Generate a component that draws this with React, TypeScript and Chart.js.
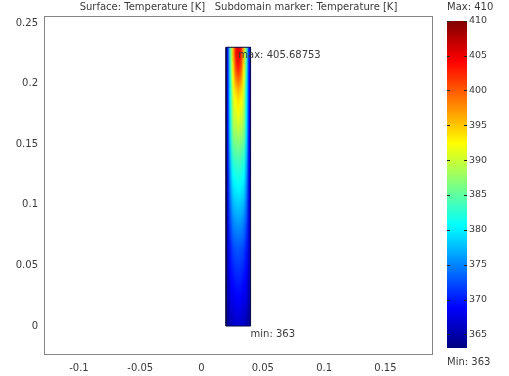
import React, { useEffect, useRef } from "react";
import { Chart, registerables } from "chart.js";

Chart.register(...registerables);

// ---- Data ----
const TITLE = "Surface: Temperature [K]   Subdomain marker: Temperature [K]";
const X_TICKS = [-0.1, -0.05, 0, 0.05, 0.1, 0.15];
const Y_TICKS = [0, 0.05, 0.1, 0.15, 0.2, 0.25];
const X_RANGE = [-0.1285, 0.1888];
const Y_RANGE = [-0.0239, 0.2558];
const DOMAIN_X = [0.02, 0.04];
const DOMAIN_Y = [0, 0.23];
const T_MIN = 363;
const T_MAX = 410;
const COLORBAR_TICKS = [365, 370, 375, 380, 385, 390, 395, 400, 405, 410];
const COLORBAR_AXIS = [362.04, 410.67];
const MAX_LABEL = "max: 405.68753";
const MIN_LABEL = "min: 363";
const MAX_POINT = [0.03, 0.23];
const MIN_POINT = [0.04, 0];

// Temperature field: rows from top (y=0.23) to bottom (y=0), half-width profile
// from the subdomain edge to its centre line (mirrored on the other side).
const T_EDGE = [369, 369, 368.5, 368.5, 368, 368, 368, 367.5, 367.5, 367.5, 367, 367, 367, 366.5, 366.5, 366, 366, 365.5, 365.5, 365, 365, 364.5, 364];
const T_NEAR_EDGE = [384, 383, 382, 381, 380.5, 380, 379.5, 379, 378, 377, 376, 375, 374, 373, 372, 371, 370, 369.5, 369, 368, 367.5, 366.5, 365.5];
const T_MID = [395, 393.5, 392, 390.5, 389.5, 388.5, 387.5, 386, 384, 382.3, 380.8, 379.2, 377.7, 376.2, 374.7, 373.5, 372, 371, 370, 369, 368.2, 367.3, 366.3];
const T_NEAR_CENTER = [403, 401, 398, 394.5, 392.3, 390.7, 389, 387, 385, 383.2, 381.7, 380.2, 378.7, 377.2, 375.7, 374.2, 372.8, 371.8, 370.8, 369.8, 368.8, 367.8, 366.8];
const T_CENTER = [405.6, 403.5, 400, 396, 393.5, 391.8, 389.8, 387.7, 385.6, 383.6, 382, 380.5, 379, 377.5, 376, 374.5, 373, 372, 371, 370, 369, 368, 367];

const FONT = "DejaVu Sans";
const TEXT = "#3a3a3a";

function jet(v: number): [number, number, number] {
  const t = Math.max(0, Math.min(1, (v - T_MIN) / (T_MAX - T_MIN)));
  const c = (a: number) => Math.round(255 * Math.max(0, Math.min(1, 1.5 - Math.abs(4 * t - a))));
  return [c(3), c(2), c(1)];
}

const heatPlugin = {
  id: "heat",
  beforeDatasetsDraw(chart: any) {
    const { ctx } = chart;
    const x = chart.scales.x;
    const y = chart.scales.y;
    const rows = T_CENTER.length;
    const cols = 9;
    const off = document.createElement("canvas");
    off.width = cols;
    off.height = rows;
    const octx = off.getContext("2d")!;
    const img = octx.createImageData(cols, rows);
    for (let r = 0; r < rows; r++) {
      const prof = [T_EDGE[r], T_NEAR_EDGE[r], T_MID[r], T_NEAR_CENTER[r], T_CENTER[r], T_NEAR_CENTER[r], T_MID[r], T_NEAR_EDGE[r], T_EDGE[r]];
      for (let c = 0; c < cols; c++) {
        const [R, G, B] = jet(prof[c]);
        const i = (r * cols + c) * 4;
        img.data[i] = R;
        img.data[i + 1] = G;
        img.data[i + 2] = B;
        img.data[i + 3] = 255;
      }
    }
    octx.putImageData(img, 0, 0);
    const left = x.getPixelForValue(DOMAIN_X[0]);
    const right = x.getPixelForValue(DOMAIN_X[1]);
    const top = y.getPixelForValue(DOMAIN_Y[1]);
    const bottom = y.getPixelForValue(DOMAIN_Y[0]);
    ctx.save();
    ctx.imageSmoothingEnabled = true;
    (ctx as any).imageSmoothingQuality = "high";
    ctx.drawImage(off, left, top, right - left, bottom - top);
    ctx.restore();
  },
};

const decorPlugin = {
  id: "decor",
  afterDraw(chart: any) {
    const { ctx, chartArea } = chart;
    const x = chart.scales.x;
    const y = chart.scales.y;
    const c = chart.scales.c;
    ctx.save();
    // frame
    ctx.strokeStyle = "#858585";
    ctx.lineWidth = 1;
    ctx.strokeRect(chartArea.left + 0.5, chartArea.top + 0.5, chartArea.right - chartArea.left - 1, chartArea.bottom - chartArea.top - 1);
    // title
    ctx.fillStyle = TEXT;
    ctx.font = `10px "${FONT}"`;
    ctx.textAlign = "center";
    ctx.textBaseline = "middle";
    ctx.fillText(TITLE, (chartArea.left + chartArea.right) / 2, 7);
    // max / min labels
    ctx.textAlign = "left";
    ctx.textBaseline = "top";
    ctx.fillText(MAX_LABEL, x.getPixelForValue(MAX_POINT[0]), y.getPixelForValue(MAX_POINT[1]) + 3);
    ctx.fillText(MIN_LABEL, x.getPixelForValue(MIN_POINT[0]), y.getPixelForValue(MIN_POINT[1]) + 3);
    // colour bar
    const bx = chartArea.right + 14;
    const bw = 20;
    const top = Math.round(c.getPixelForValue(T_MAX));
    const bottom = Math.round(c.getPixelForValue(T_MIN));
    for (let py = top; py < bottom; py++) {
      const [R, G, B] = jet(c.getValueForPixel(py + 0.5));
      ctx.fillStyle = `rgb(${R},${G},${B})`;
      ctx.fillRect(bx, py, bw, 1);
    }
    ctx.strokeStyle = "#202020";
    ctx.lineWidth = 1;
    for (const t of COLORBAR_TICKS) {
      const py = Math.round(c.getPixelForValue(t)) + 0.5;
      ctx.beginPath();
      ctx.moveTo(bx, py);
      ctx.lineTo(bx + 3, py);
      ctx.moveTo(bx + bw - 3, py);
      ctx.lineTo(bx + bw, py);
      ctx.stroke();
    }
    ctx.fillStyle = TEXT;
    ctx.textAlign = "left";
    ctx.textBaseline = "middle";
    ctx.fillText(`Max: ${T_MAX}`, bx, 7);
    ctx.fillText(`Min: ${T_MIN}`, bx, 362);
    ctx.restore();
  },
};

const noPad = (s: any) => {
  s.paddingTop = 0;
  s.paddingBottom = 0;
  s.paddingLeft = 0;
  s.paddingRight = 0;
};

export default function App() {
  const ref = useRef<HTMLCanvasElement | null>(null);
  useEffect(() => {
    if (!ref.current) return;
    Chart.defaults.font.family = FONT;
    Chart.defaults.font.size = 10;
    Chart.defaults.color = TEXT;
    const outline = [
      { x: DOMAIN_X[0], y: DOMAIN_Y[0] },
      { x: DOMAIN_X[1], y: DOMAIN_Y[0] },
      { x: DOMAIN_X[1], y: DOMAIN_Y[1] },
      { x: DOMAIN_X[0], y: DOMAIN_Y[1] },
      { x: DOMAIN_X[0], y: DOMAIN_Y[0] },
    ];
    const chart = new Chart(ref.current, {
      type: "scatter",
      data: {
        datasets: [
          {
            data: outline,
            showLine: true,
            borderColor: "#0c0c4a",
            borderWidth: 1,
            pointRadius: 0,
            fill: false,
            xAxisID: "x",
            yAxisID: "y",
          },
        ],
      },
      plugins: [heatPlugin, decorPlugin],
      options: {
        responsive: false,
        maintainAspectRatio: false,
        animation: false,
        layout: { padding: { top: 16, left: 0, right: 0, bottom: 0 } },
        plugins: { legend: { display: false }, tooltip: { enabled: false }, title: { display: false } },
        scales: {
          x: {
            type: "linear",
            min: X_RANGE[0],
            max: X_RANGE[1],
            grid: { display: false, drawTicks: false },
            border: { display: false },
            afterBuildTicks: (s: any) => { s.ticks = X_TICKS.map((v) => ({ value: v })); },
            afterFit: (s: any) => { s.height = 21; noPad(s); },
            ticks: { padding: 7, maxRotation: 0, autoSkip: false, callback: (v: any) => String(v) },
          },
          y: {
            type: "linear",
            position: "left",
            min: Y_RANGE[0],
            max: Y_RANGE[1],
            grid: { display: false, drawTicks: false },
            border: { display: false },
            afterBuildTicks: (s: any) => { s.ticks = Y_TICKS.map((v) => ({ value: v })); },
            afterFit: (s: any) => { s.width = 44; noPad(s); },
            ticks: { padding: 6, autoSkip: false, callback: (v: any) => String(v) },
          },
          c: {
            type: "linear",
            axis: "y",
            position: "right",
            min: COLORBAR_AXIS[0],
            max: COLORBAR_AXIS[1],
            grid: { display: false, drawTicks: false },
            border: { display: false },
            afterBuildTicks: (s: any) => { s.ticks = COLORBAR_TICKS.map((v) => ({ value: v })); },
            afterFit: (s: any) => { s.width = 76; noPad(s); },
            ticks: { padding: 36, autoSkip: false, font: { size: 9.5 }, callback: (v: any) => String(v) },
          },
        },
      } as any,
    });
    return () => chart.destroy();
  }, []);
  return (
    <div style={{ position: "absolute", left: 0, top: 0, width: 509, height: 376, background: "#fff" }}>
      <canvas ref={ref} width={509} height={376} />
    </div>
  );
}
